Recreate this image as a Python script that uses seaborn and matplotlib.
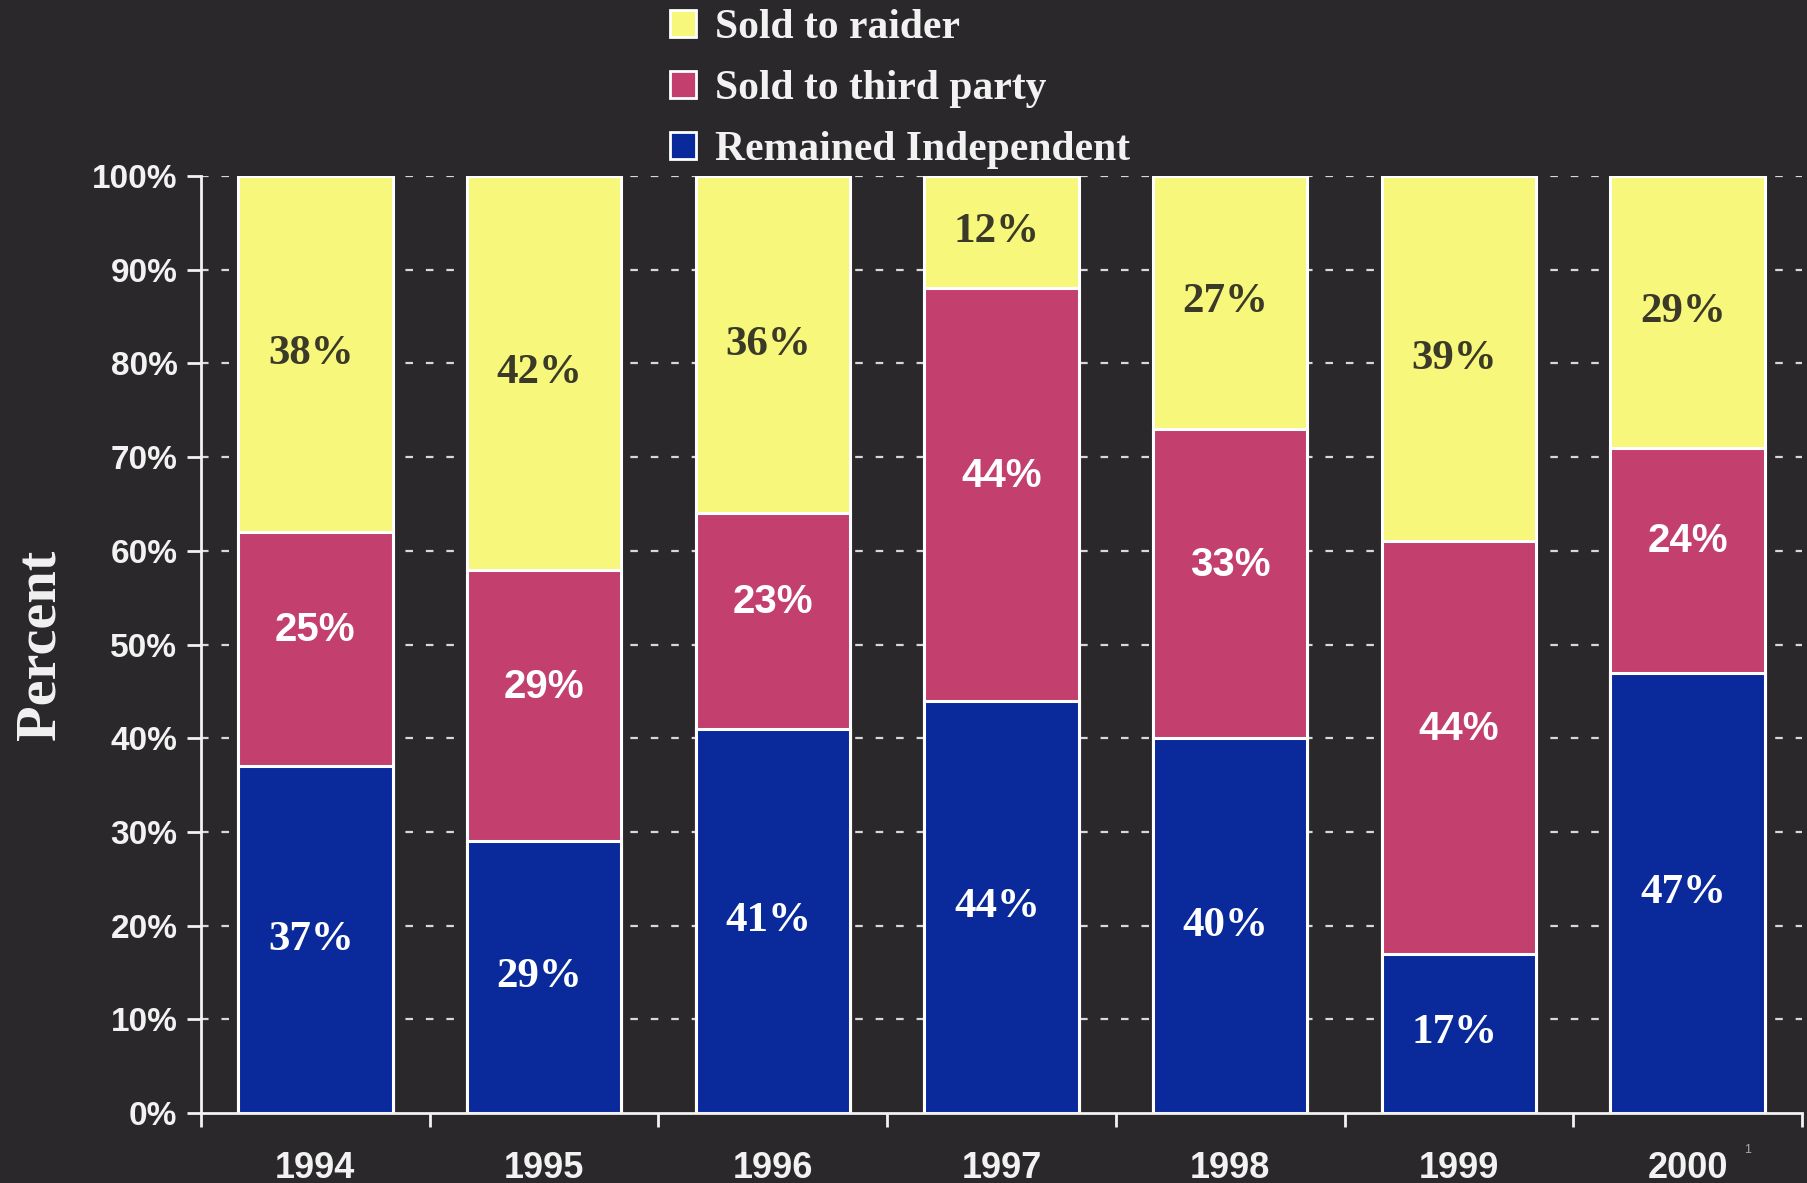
import matplotlib
matplotlib.use("Agg")
import matplotlib.pyplot as plt
import seaborn as sns
import pandas as pd
import numpy as np
from matplotlib.patches import Patch

years = ["1994", "1995", "1996", "1997", "1998", "1999", "2000"]
remained_independent = [37, 29, 41, 44, 40, 17, 47]
sold_third_party = [25, 29, 23, 44, 33, 44, 24]
sold_raider = [38, 42, 36, 12, 27, 39, 29]
y_ticks = [0, 10, 20, 30, 40, 50, 60, 70, 80, 90, 100]
series_names = ["Sold to raider", "Sold to third party", "Remained Independent"]

BG = "#2a282a"
YELLOW = "#f7f77c"
MAGENTA = "#c33f6d"
BLUE = "#0a2a9c"
WHITE = "#f2f2f2"
SERIF = ["Liberation Serif", "DejaVu Serif"]
SANS = ["Liberation Sans", "DejaVu Sans"]

sns.set_theme(style="dark")
plt.rcParams["font.family"] = SANS

df = pd.DataFrame({
    "year": years,
    "blue": remained_independent,
    "magenta": sold_third_party,
    "yellow": sold_raider,
})
df["cum_blue"] = df["blue"]
df["cum_mag"] = df["blue"] + df["magenta"]
df["cum_yel"] = df["cum_mag"] + df["yellow"]

fig = plt.figure(figsize=(18.08, 11.83), dpi=100, facecolor=BG)
ax = fig.add_axes([201 / 1808, 1 - 1113 / 1183, (1802 - 201) / 1808, (1113 - 176) / 1183])
ax.set_facecolor(BG)

# grid lines (behind bars)
for t in y_ticks[1:]:
    ax.axhline(t, color="#d8d8d8", lw=1.6, ls=(0, (3.4, 5.8)), zorder=0)

bar_kw = dict(width=0.675, edgecolor="#ffffff", linewidth=2.2, saturation=1, zorder=2)
sns.barplot(data=df, x="year", y="cum_yel", color=YELLOW, ax=ax, **bar_kw)
sns.barplot(data=df, x="year", y="cum_mag", color=MAGENTA, ax=ax, **bar_kw)
sns.barplot(data=df, x="year", y="cum_blue", color=BLUE, ax=ax, **bar_kw)

# labels
for i in range(len(years)):
    b = df["blue"][i]; m = df["magenta"][i]; yv = df["yellow"][i]
    ax.text(i - 0.02, b / 2, f"{b}%", ha="center", va="center", color="white",
            fontsize=31, fontweight="bold", family=SERIF, zorder=5)
    ax.text(i, b + m / 2 + 2, f"{m}%", ha="center", va="center", color="white",
            fontsize=29, fontweight="bold", family=SANS, zorder=5)
    ax.text(i - 0.02, b + m + yv / 2, f"{yv}%", ha="center", va="center", color="#3b3a28",
            fontsize=31, fontweight="bold", family=SERIF, zorder=5)

ax.set_xlim(-0.5, len(years) - 0.5)
ax.set_ylim(0, 100)
ax.set_yticks(y_ticks)
ax.set_yticklabels([f"{t}%" for t in y_ticks])
ax.set_xticks(range(len(years)))
ax.set_xticklabels(years)
ax.set_xticks(np.arange(-0.5, len(years)), minor=True)
ax.set_xlabel("")
ax.set_ylabel("Percent", family=SERIF, fontweight="bold", fontsize=42, color=WHITE, labelpad=18)

ax.tick_params(axis="y", which="major", left=True, direction="out", length=10, width=2,
               color=WHITE, labelcolor=WHITE, labelsize=24, pad=7)
ax.tick_params(axis="x", which="major", bottom=False, labelcolor=WHITE, labelsize=26, pad=21)
ax.tick_params(axis="x", which="minor", bottom=True, direction="out", length=10, width=2,
               color=WHITE)
for lab in ax.get_xticklabels() + ax.get_yticklabels():
    lab.set_fontweight("bold")
    lab.set_family(SANS)

for s in ["top", "right"]:
    ax.spines[s].set_visible(False)
for s in ["left", "bottom"]:
    ax.spines[s].set_visible(True)
    ax.spines[s].set_color(WHITE)
    ax.spines[s].set_linewidth(2)
ax.grid(False)

handles = [Patch(facecolor=c, edgecolor="white", linewidth=2) for c in [YELLOW, MAGENTA, BLUE]]
leg = fig.legend(handles, series_names, loc="upper left", bbox_to_anchor=(670 / 1808, 1 - 9 / 1183),
                 frameon=False, prop={"family": SERIF, "weight": "bold", "size": 30},
                 labelcolor=WHITE, handlelength=0.63, handleheight=0.63, handletextpad=0.45,
                 labelspacing=0.55, borderpad=0, borderaxespad=0)

fig.text(1748 / 1808, 1 - 1150 / 1183, "1", color="#aaaaaa", fontsize=9, ha="center", va="center")

fig.savefig("out.png", dpi=100, facecolor=BG)
